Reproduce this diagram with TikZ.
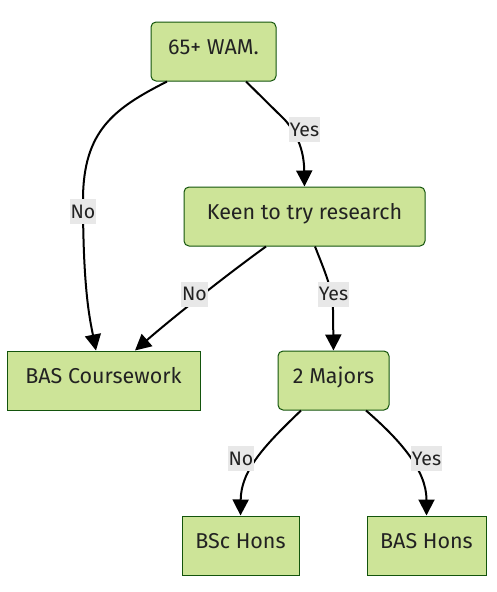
\documentclass[tikz,border=0pt]{standalone}
\usepackage{fontspec}
\setmainfont{Fira Sans}
\usetikzlibrary{arrows.meta,calc}
\definecolor{boxfill}{HTML}{CDE498}
\definecolor{boxline}{HTML}{13540C}
\definecolor{lblfill}{HTML}{E8E8E8}
\definecolor{txt}{HTML}{222222}
\tikzset{
  box/.style={draw=boxline, line width=1pt, fill=boxfill, minimum height=59pt, inner sep=0pt},
  rbox/.style={box, rounded corners=5pt},
  btxt/.style={anchor=base, inner sep=0pt, text=txt, font=\fontsize{21.5}{25}\selectfont},
  lbl/.style={fill=lblfill, inner xsep=1pt, inner ysep=0pt, text height=19pt, text depth=6pt, text=txt, font=\fontsize{19.5}{23}\selectfont},
  conn/.style={draw=black, line width=2pt, -{Triangle[length=16pt,width=16pt]}},
}
\begin{document}
\begin{tikzpicture}[x=1pt,y=-1pt]
\useasboundingbox (0,0) rectangle (496,592);
% boxes
\node[rbox, minimum width=125pt] (wam)  at (213.5,51.5) {};
\node[rbox, minimum width=241pt] (keen) at (304.5,216.5) {};
\node[box,  minimum width=193pt] (basc) at (103.5,380.5) {};
\node[rbox, minimum width=111pt] (maj)  at (333.5,380.5) {};
\node[box,  minimum width=117pt] (bsc)  at (240.5,545.5) {};
\node[box,  minimum width=119pt] (bash) at (426.5,545.5) {};
% texts
\node[btxt] (twam)  at ($(wam.center)+(0,2.5)$)  {65+ WAM.};
\node[btxt] (tkeen) at ($(keen.center)+(0,2.5)$) {Keen to try research};
\node[btxt] (tbasc) at ($(basc.center)+(0,2.5)$) {BAS Coursework};
\node[btxt] (tmaj)  at ($(maj.center)+(0,2.5)$)  {2 Majors};
\node[btxt] (tbsc)  at ($(bsc.center)+(0,2.5)$)  {BSc Hons};
\node[btxt] (tbash) at ($(bash.center)+(0,2.5)$) {BAS Hons};
% connectors
\draw[conn] ($(wam.south)+(-46.5,0)$) .. controls (115,108) and (83,130) .. (83,200)
   .. controls (83,290) and (90,320) .. ($(basc.north)+(-7.5,0)$);
\draw[conn] ($(wam.south)+(32.5,0)$) -- (285,120) .. controls (300,137) and (304,155) .. (keen.north);
\draw[conn] ($(keen.south)+(-38.5,0)$) .. controls (225,276) and (170,320) .. ($(basc.north)+(31.5,0)$);
\draw[conn] ($(keen.south)+(10.5,0)$) .. controls (325,272) and (333,290) .. (333,310) -- (maj.north);
\draw[conn] ($(maj.south)+(-32.5,0)$) .. controls (265,445) and (241,470) .. (bsc.north);
\draw[conn] ($(maj.south)+(32.5,0)$) .. controls (400,440) and (426.5,470) .. (bash.north);
% labels
\node[lbl] (l1) at (83,211.5) {No};
\node[lbl] (l2) at (304.5,129.5) {Yes};
\node[lbl] (l3) at (194.5,294) {No};
\node[lbl] (l4) at (333.5,294) {Yes};
\node[lbl] (l5) at (241,458.5) {No};
\node[lbl] (l6) at (426.5,458.5) {Yes};
\end{tikzpicture}
\end{document}
